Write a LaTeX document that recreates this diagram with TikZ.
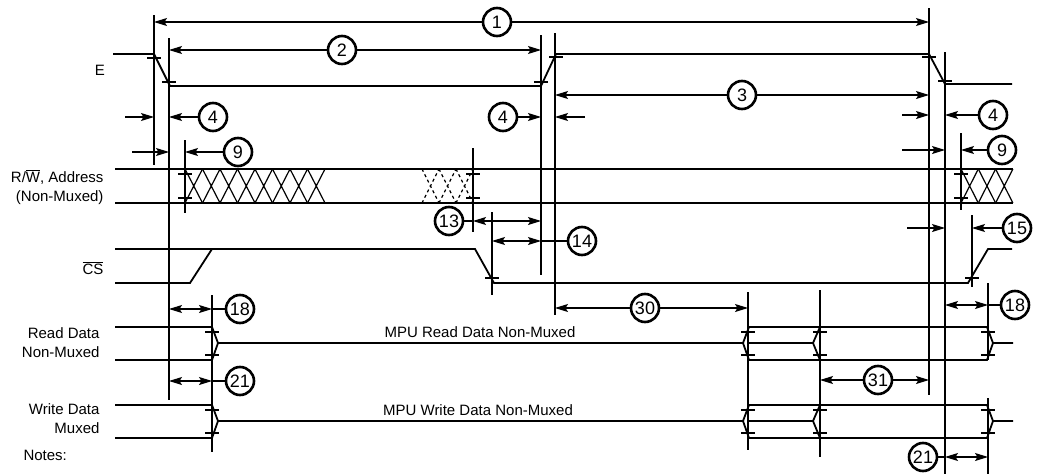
\documentclass[tikz,border=0pt]{standalone}
\usepackage{fontspec}
\setmainfont{Liberation Sans}
\usetikzlibrary{arrows.meta,calc}

\tikzset{
	sig/.style={line width=1.8pt},
	guide/.style={line width=1.5pt},
	dim/.style={line width=1.1pt},
	arr/.style={dim,-{Stealth[length=13pt,width=8pt,inset=2.5pt]}},
	darr/.style={dim,{Stealth[length=13pt,width=8pt,inset=2.5pt]}-{Stealth[length=13pt,width=8pt,inset=2.5pt]}},
	num/.style={circle,draw,line width=2.6pt,minimum size=28pt,inner sep=0pt,font=\fontsize{18}{18}\selectfont},
	lbl/.style={font=\fontsize{15}{19}\selectfont},
	hatch/.style={line width=1.2pt},
}
\newcommand{\tk}[2]{\draw[dim] (#1-7,#2) -- (#1+7,#2);}

\begin{document}
\begin{tikzpicture}[x=1pt,y=-1pt]
	\useasboundingbox (0,0) rectangle (1037,474);
	% time marks
	\foreach \n/\x in {a/154,b/169,c/185,d/212,e/473,f/492,g/541,h/555,i/748,j/820,k/929,l/945,m/961,n/972,o/988}
		\coordinate (t\n) at (\x,0);
	\foreach \x/\a/\b in {154/15/165,169/38/400,185/140/213,212/295/452,473/148/232,492/212/295,541/35/275,555/33/315,
			748/292/450,820/290/457,929/8/395,945/52/474,961/133/210,972/215/287,988/283/360,988/398/474}
		\draw[guide] (\x,\a) -- (\x,\b);

	% E
	\draw[sig] (113,54) -- (154,54) -- (170,86) -- (541,86) -- (556,54) -- (929,54) -- (945,84) -- (1012,84);
	\tk{154}{58} \tk{169}{82} \tk{541}{82} \tk{556}{57} \tk{929}{57} \tk{945}{81}
	% R/W, address
	\draw[sig] (115,169) -- (1013,169) (115,203) -- (1013,203);
	\foreach \i in {0,...,7}
		\draw[hatch] (185+17.5*\i,169) -- ++(17.5,34) (185+17.5*\i,203) -- ++(17.5,-34);
	\foreach \i in {0,1,2}
		\draw[hatch] (961+17.3*\i,169) -- ++(17.3,34) (961+17.3*\i,203) -- ++(17.3,-34);
	\foreach \i in {0,1,2}
		\draw[hatch,dashed] (422+17*\i,169) -- ++(17,34) (422+17*\i,203) -- ++(17,-34);
	\tk{185}{174} \tk{185}{198} \tk{473}{174} \tk{473}{198} \tk{961}{174} \tk{961}{198}
	% CS
	\draw[sig] (115,249) -- (475,249) -- (494,283) -- (968,283) -- (988,249) -- (1012,249);
	\draw[sig] (115,283) -- (190,283) -- (212,249);
	\tk{492}{278} \tk{972}{278}
	% data buses
	\foreach \y in {343,421} {
		\draw[sig] (115,\y-16) -- (212,\y-16) -- (218,\y) -- (743,\y) -- (749,\y-16) -- (987,\y-16) -- (993,\y) -- (1013,\y);
		\draw[sig] (115,\y+17) -- (212,\y+17) -- (218,\y) (743,\y) -- (749,\y+17) -- (987,\y+17) -- (993,\y);
		\draw[sig] (749,\y) -- (813,\y) -- (820,\y-16) (813,\y) -- (820,\y+17);
		\foreach \x in {212,748,820,988} {\tk{\x}{\y-11}\tk{\x}{\y+12}}
	}

	% labels
	\node[lbl] (lE) at (100,70) {E};
	\node[lbl,anchor=east] (lRW) at (107,177) {R/$\overline{\hbox{W}}$, Address};
	\node[lbl,anchor=east] (lNM) at (107,198) {(Non-Muxed)};
	\node[lbl,anchor=east] (lCS) at (107,268) {$\overline{\hbox{CS}}$};
	\node[lbl,anchor=east,align=right] (lRD) at (103,343) {Read Data\\Non-Muxed};
	\node[lbl,anchor=east,align=right] (lWD) at (103,419) {Write Data\\Muxed};
	\node[lbl,anchor=west] (notes) at (20,455) {Notes:};
	\node[lbl] (mpuR) at (480,332) {MPU Read Data Non-Muxed};
	\node[lbl] (mpuW) at (478,410) {MPU Write Data Non-Muxed};

	% timing numbers
	\node[num] (n1) at (497,22) {1};
	\draw[arr] (n1) -- (n1 -| ta);
	\draw[arr] (n1) -- (n1 -| tk);
	\node[num] (n2) at (342,50) {2};
	\draw[arr] (n2) -- (n2 -| tb);
	\draw[arr] (n2) -- (n2 -| tg);
	\node[num] (n3) at (742,95) {3};
	\draw[arr] (n3) -- (n3 -| th);
	\draw[arr] (n3) -- (n3 -| tk);
	\node[num] (n4a) at (213,117) {4};
	\draw[arr] (n4a) -- (n4a -| tb);
	\draw[arr] ($(n4a -| ta)+(-29,0)$) -- (n4a -| ta);
	\node[num] (n4b) at (503,117) {4};
	\draw[arr] (n4b) -- (n4b -| tg);
	\draw[arr] ($(n4b -| th)+(30,0)$) -- (n4b -| th);
	\node[num] (n4c) at (993,115) {4};
	\draw[arr] (n4c) -- (n4c -| tl);
	\draw[arr] ($(n4c -| tk)+(-27,0)$) -- (n4c -| tk);
	\node[num] (n9a) at (238,152) {9};
	\draw[arr] (n9a) -- (n9a -| tc);
	\draw[arr] ($(n9a -| tb)+(-37,0)$) -- (n9a -| tb);
	\node[num] (n9b) at (1002,150) {9};
	\draw[arr] (n9b) -- (n9b -| tm);
	\draw[arr] ($(n9b -| tl)+(-43,0)$) -- (n9b -| tl);
	\node[num] (n13) at (449,221) {13};
	\draw[dim] (n13) -- (n13 -| te);
	\draw[darr] (n13 -| te) -- (n13 -| tg);
	\node[num] (n14) at (582,241) {14};
	\draw[darr] (n14 -| tf) -- (n14 -| tg);
	\draw[dim] (n14 -| tg) -- (n14);
	\node[num] (n15) at (1017,228) {15};
	\draw[arr] (n15) -- (n15 -| tn);
	\draw[arr] ($(n15 -| tl)+(-38,0)$) -- (n15 -| tl);
	\node[num] (n18a) at (240,309) {18};
	\draw[darr] (n18a -| tb) -- (n18a -| td);
	\draw[dim] (n18a -| td) -- (n18a);
	\node[num] (n18b) at (1015,305) {18};
	\draw[darr] (n18b -| tl) -- (n18b -| to);
	\draw[dim] (n18b -| to) -- (n18b);
	\node[num] (n21a) at (240,381) {21};
	\draw[darr] (n21a -| tb) -- (n21a -| td);
	\draw[dim] (n21a -| td) -- (n21a);
	\node[num] (n21b) at (923,457) {21};
	\draw[dim] (n21b) -- (n21b -| tl);
	\draw[darr] (n21b -| tl) -- (n21b -| to);
	\node[num] (n30) at (645,308) {30};
	\draw[arr] (n30) -- (n30 -| th);
	\draw[arr] (n30) -- (n30 -| ti);
	\node[num] (n31) at (878,380) {31};
	\draw[arr] (n31) -- (n31 -| tj);
	\draw[arr] (n31) -- (n31 -| tk);
\end{tikzpicture}
\end{document}
